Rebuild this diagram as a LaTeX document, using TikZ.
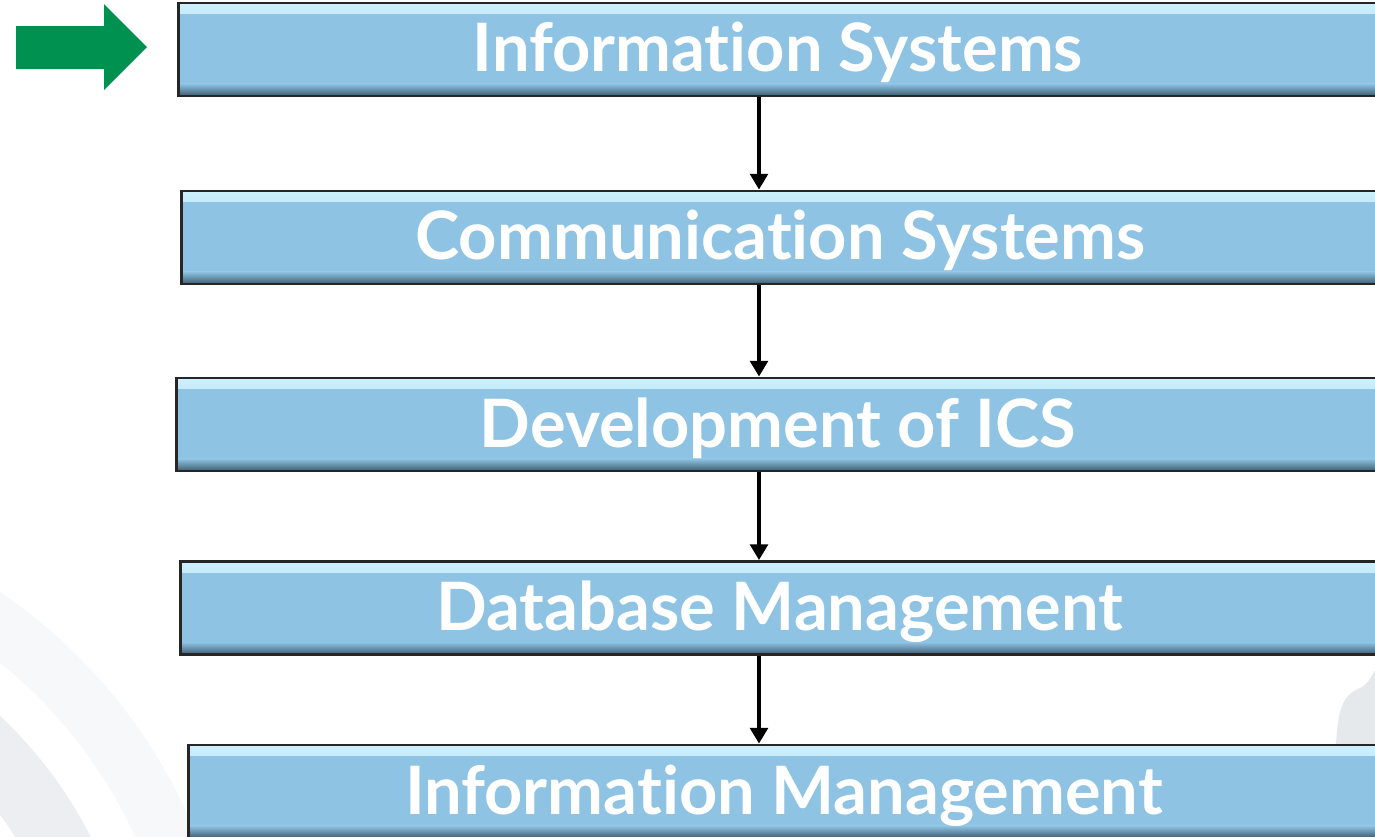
\documentclass[tikz,border=0pt]{standalone}
\usepackage{fontspec}
\setsansfont[Ligatures=NoCommon]{Lato}
\usetikzlibrary{arrows.meta}

\definecolor{boxblue}{RGB}{142,195,227}
\definecolor{boxlite}{RGB}{205,240,252}
\definecolor{boxdark}{RGB}{62,92,112}
\definecolor{pointgreen}{RGB}{0,145,80}
\definecolor{arcpale}{RGB}{247,248,250}
\definecolor{arcgrey}{RGB}{236,238,241}
\definecolor{blobgrey}{RGB}{229,233,236}

\tikzset{
  box/.style={rectangle,draw=black!85,line width=1.6pt,fill=boxblue,
    text=white,font=\sffamily\bfseries\fontsize{38}{40}\selectfont,
    text height=30pt,text depth=4.4pt,
    minimum height=1.86cm,inner sep=0pt,anchor=west,
    path picture={
      \shade[top color=boxlite,bottom color=boxblue]
        ([yshift=-1pt]path picture bounding box.north west)
        rectangle ([yshift=-6pt]path picture bounding box.north east);
      \shade[top color=boxblue,bottom color=boxdark]
        ([yshift=7pt]path picture bounding box.south west)
        rectangle (path picture bounding box.south east);
    }},
  flow/.style={draw=black,line width=2.6pt,-{Triangle[length=9pt,width=10pt]}}
}

\begin{document}
\begin{tikzpicture}[x=0.02cm,y=-0.02cm]
\useasboundingbox (0,0) rectangle (1375,836);

% faint rings in the back
\fill[arcpale] (-300,1035) circle (535);
\fill[white] (-300,1035) circle (478);
\fill[arcgrey] (-300,1035) circle (438);
\fill[white] (-300,1035) circle (372);
\fill[blobgrey] (1336,745) .. controls (1338,705) and (1344,695) .. (1360,688)
  .. controls (1368,684) and (1372,676) .. (1376,668) -- (1376,745) -- cycle;

% pointer
\fill[pointgreen] (16,26) -- (104,26) -- (104,4) -- (147,47) -- (104,90)
  -- (104,69) -- (16,69) -- cycle;

\coordinate (spine) at (759,0);

\begin{scope}[every node/.style={box}]
    \node[minimum width=23.98cm] (is) at (177,49.5) {Information Systems};
    \node[minimum width=23.96cm] (cs) at (180,237.5) {Communication Systems};
    \node[minimum width=24.06cm] (ics) at (175,424.5) {Development of ICS};
    \node[minimum width=23.98cm] (db) at (179,608) {Database Management};
    \node[minimum width=23.82cm] (im) at (187,791.5) {Information Management};
\end{scope}

\begin{scope}[every edge/.style={flow}]
    \path (is.south -| spine) edge (cs.north -| spine);
    \path (cs.south -| spine) edge (ics.north -| spine);
    \path (ics.south -| spine) edge (db.north -| spine);
    \path (db.south -| spine) edge (im.north -| spine);
\end{scope}
\end{tikzpicture}
\end{document}
